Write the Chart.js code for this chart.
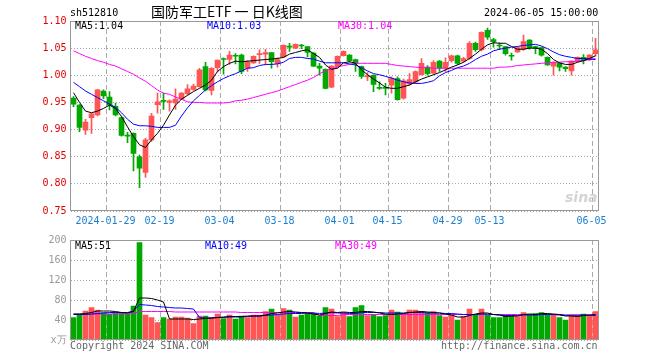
<!DOCTYPE html>
<html>
<head>
<meta charset="utf-8">
<script src="https://cdn.jsdelivr.net/npm/chart.js@4.4.1/dist/chart.umd.min.js"></script>
<style>
body { margin:0; background:#fff; width:660px; height:360px; position:relative; overflow:hidden; font-family:'DejaVu Sans Mono', monospace; }
canvas { position:absolute; left:0; }
#kline { top:0; }
#vol { top:226px; }
.txt { position:absolute; font-size:10px; line-height:12px; white-space:pre; }
</style>
</head>
<body>
<canvas id="kline" width="660" height="232"></canvas>
<canvas id="vol" width="660" height="134"></canvas>

<div class="txt" style="left:70px;top:7px;font-size:10px;color:#000">sh512810</div>
<div class="txt" style="left:151px;top:3px;font-size:14px;line-height:17px;font-family:'Noto Sans CJK SC',sans-serif;color:#000">国防军工ETF 一 日K线图</div>
<div class="txt" style="left:484px;top:7px;color:#000">2024-06-05 15:00:00</div>

<div class="txt" style="left:75px;top:20px;color:#000">MA5:1.04</div>
<div class="txt" style="left:207px;top:20px;color:#0000ff">MA10:1.03</div>
<div class="txt" style="left:338px;top:20px;color:#ff00ff">MA30:1.04</div>

<div class="txt" style="left:565px;top:189px;font:italic bold 14px 'DejaVu Sans',sans-serif;color:#d4d4d4">sina</div>

<div class="txt" style="left:75px;top:240px;color:#000">MA5:51</div>
<div class="txt" style="left:205px;top:240px;color:#0000ff">MA10:49</div>
<div class="txt" style="left:335px;top:240px;color:#ff00ff">MA30:49</div>

<div class="txt" style="left:70px;top:340px;color:#666">Copyright 2024 SINA.COM</div>
<div class="txt" style="left:441px;top:340px;color:#666">http://finance.sina.com.cn</div>

<script>
// trading days shown (2024-01-19 .. 2024-06-05)
const dates = [
  '2024-01-19','2024-01-22','2024-01-23','2024-01-24','2024-01-25','2024-01-26','2024-01-29','2024-01-30','2024-01-31',
  '2024-02-01','2024-02-02','2024-02-05','2024-02-06','2024-02-07','2024-02-08','2024-02-19','2024-02-20','2024-02-21',
  '2024-02-22','2024-02-23','2024-02-26','2024-02-27','2024-02-28','2024-02-29',
  '2024-03-01','2024-03-04','2024-03-05','2024-03-06','2024-03-07','2024-03-08','2024-03-11','2024-03-12','2024-03-13',
  '2024-03-14','2024-03-15','2024-03-18','2024-03-19','2024-03-20','2024-03-21','2024-03-22','2024-03-25','2024-03-26',
  '2024-03-27','2024-03-28','2024-03-29',
  '2024-04-01','2024-04-02','2024-04-03','2024-04-08','2024-04-09','2024-04-10','2024-04-11','2024-04-12','2024-04-15',
  '2024-04-16','2024-04-17','2024-04-18','2024-04-19','2024-04-22','2024-04-23','2024-04-24','2024-04-25','2024-04-26',
  '2024-04-29','2024-04-30',
  '2024-05-06','2024-05-07','2024-05-08','2024-05-09','2024-05-10','2024-05-13','2024-05-14','2024-05-15','2024-05-16',
  '2024-05-17','2024-05-20','2024-05-21','2024-05-22','2024-05-23','2024-05-24','2024-05-27','2024-05-28','2024-05-29',
  '2024-05-30','2024-05-31',
  '2024-06-03','2024-06-04','2024-06-05'
];

const openP = [0.958,0.945,0.899,0.922,0.927,0.971,0.960,0.943,0.922,0.889,
  0.893,0.850,0.821,0.881,0.946,0.953,0.950,0.949,0.956,0.966,
  0.974,0.979,1.016,0.972,1.014,1.030,1.029,1.036,1.037,1.013,
  1.023,1.038,1.039,1.042,1.022,1.034,1.053,1.050,1.055,1.053,
  1.041,1.017,1.011,0.978,1.016,1.036,1.037,1.029,1.016,0.997,
  1.000,0.977,0.977,0.982,0.994,0.958,0.984,0.988,1.001,1.015,
  1.004,1.026,1.013,1.027,1.036,1.026,1.031,1.059,1.047,1.083,
  1.066,1.055,1.053,1.036,1.043,1.048,1.065,1.053,1.051,1.033,
  1.017,1.022,1.015,1.008,1.026,1.033,1.029,1.040];
const closeP = [0.947,0.904,0.914,0.929,0.973,0.962,0.945,0.927,0.889,0.888,
  0.856,0.829,0.881,0.925,0.951,0.952,0.953,0.956,0.967,0.975,
  0.980,1.010,0.973,1.013,1.028,1.029,1.037,1.035,1.007,1.025,
  1.035,1.039,1.042,1.025,1.029,1.055,1.052,1.057,1.054,1.042,
  1.017,1.013,0.976,1.017,1.035,1.044,1.027,1.022,0.998,0.999,
  0.983,0.976,0.976,0.994,0.955,0.990,0.992,1.007,1.022,1.003,
  1.024,1.013,1.024,1.036,1.022,1.031,1.059,1.047,1.079,1.070,
  1.062,1.054,1.040,1.035,1.051,1.062,1.051,1.050,1.037,1.019,
  1.024,1.015,1.012,1.026,1.033,1.027,1.037,1.047];
const highP = [0.961,0.946,0.919,0.930,0.974,0.973,0.970,0.949,0.924,0.895,
  0.894,0.853,0.884,0.930,0.967,0.967,0.955,0.975,0.968,0.983,
  0.984,1.013,1.024,1.014,1.028,1.032,1.044,1.040,1.039,1.027,
  1.036,1.047,1.048,1.042,1.032,1.056,1.059,1.058,1.057,1.053,
  1.042,1.022,1.012,1.018,1.036,1.045,1.038,1.030,1.017,1.005,
  1.001,0.988,0.985,0.997,0.997,0.993,1.003,1.008,1.031,1.018,
  1.027,1.027,1.032,1.037,1.037,1.033,1.062,1.061,1.080,1.087,
  1.068,1.060,1.053,1.041,1.052,1.074,1.066,1.054,1.052,1.034,
  1.025,1.024,1.016,1.027,1.034,1.038,1.038,1.068];
const lowP = [0.942,0.896,0.891,0.893,0.925,0.957,0.936,0.925,0.888,0.876,
  0.824,0.793,0.812,0.878,0.930,0.937,0.934,0.937,0.955,0.964,
  0.972,0.978,0.971,0.964,1.006,1.002,1.020,1.021,1.003,1.007,
  1.022,1.022,1.019,1.013,1.015,1.033,1.044,1.049,1.049,1.034,
  1.016,1.000,0.975,0.977,1.015,1.035,1.024,1.007,0.994,0.990,
  0.970,0.974,0.964,0.967,0.954,0.956,0.982,0.985,1.000,1.000,
  1.002,1.007,1.007,1.024,1.020,1.024,1.029,1.044,1.045,1.066,
  1.052,1.047,1.037,1.028,1.042,1.046,1.048,1.040,1.035,1.018,
  1.000,1.008,1.007,1.000,1.024,1.021,1.027,1.035];

const ma5 = [0.968,0.950,0.934,0.931,0.934,0.939,0.945,0.939,0.924,0.905,
  0.887,0.872,0.867,0.881,0.893,0.908,0.927,0.945,0.956,0.963,
  0.970,0.976,0.982,0.991,1.007,1.016,1.022,1.026,1.025,1.026,
  1.027,1.028,1.029,1.030,1.031,1.033,1.039,1.042,1.045,1.047,
  1.040,1.033,1.019,1.011,1.013,1.023,1.025,1.022,1.010,1.001,
  0.993,0.986,0.978,0.976,0.976,0.979,0.982,0.988,0.993,0.997,
  1.001,1.005,1.010,1.015,1.019,1.024,1.031,1.039,1.048,1.056,
  1.060,1.059,1.059,1.053,1.048,1.048,1.050,1.050,1.048,1.040,
  1.029,1.023,1.020,1.020,1.024,1.027,1.031,1.036];
const ma10 = [0.987,0.979,0.971,0.965,0.959,0.953,0.947,0.941,0.931,0.919,
  0.910,0.907,0.907,0.906,0.904,0.904,0.904,0.908,0.925,0.940,
  0.953,0.963,0.973,0.981,0.988,0.994,0.999,1.003,1.008,1.013,
  1.014,1.018,1.020,1.020,1.021,1.024,1.031,1.033,1.033,1.031,
  1.030,1.026,1.023,1.023,1.023,1.023,1.021,1.019,1.014,1.008,
  1.003,1.001,0.998,0.995,0.991,0.988,0.986,0.985,0.985,0.987,
  0.990,0.999,1.005,1.009,1.014,1.017,1.022,1.029,1.035,1.039,
  1.045,1.048,1.050,1.052,1.053,1.055,1.056,1.057,1.054,1.049,
  1.043,1.038,1.035,1.033,1.031,1.031,1.030,1.029];
const ma30 = [1.045,1.040,1.035,1.031,1.027,1.024,1.020,1.017,1.012,1.007,
  1.002,0.995,0.989,0.981,0.973,0.967,0.965,0.960,0.956,0.951,
  0.950,0.950,0.949,0.949,0.949,0.949,0.950,0.953,0.954,0.956,
  0.959,0.962,0.965,0.968,0.971,0.975,0.979,0.983,0.987,0.991,
  0.996,1.003,1.008,1.012,1.015,1.018,1.020,1.022,1.022,1.022,
  1.022,1.022,1.022,1.020,1.018,1.017,1.016,1.015,1.014,1.014,
  1.013,1.013,1.013,1.013,1.013,1.013,1.013,1.013,1.013,1.013,
  1.013,1.015,1.015,1.016,1.018,1.019,1.020,1.021,1.022,1.023,
  1.024,1.024,1.025,1.025,1.026,1.027,1.029,1.031];

// volume, in 万
const volume = [45,51,58,65,60,55,52,55,55,53,
  68,195,50,45,35,45,42,46,46,44,
  33,48,48,45,52,43,50,42,48,45,
  50,50,57,62,50,63,60,46,50,53,
  53,48,65,62,47,55,47,65,69,49,
  51,47,49,60,56,52,60,60,57,55,
  57,49,46,50,40,47,62,50,62,50,
  45,45,50,50,47,55,51,53,55,51,
  50,45,40,50,50,52,49,57];
const volMa5 = [52,52,53,55,58,58,58,57,55,54,
  57,84,84,83,80,76,42,42,42,42,
  41,42,43,44,45,46,47,47,47,48,
  48,48,50,53,54,56,57,56,55,54,
  52,50,53,56,55,56,55,55,57,57,
  56,54,52,51,52,53,55,56,57,56,
  55,54,52,50,46,46,49,52,54,54,
  51,50,47,48,48,51,52,51,53,53,
  52,51,48,48,47,49,50,51];
const volMa10 = [51,51,51,52,53,54,55,55,55,55,
  58,71,70,69,67,66,65,64,64,63,
  62,45,44,44,45,45,46,46,46,47,
  48,48,49,50,51,52,53,53,53,54,
  54,53,54,55,54,54,53,53,55,55,
  55,55,54,54,54,54,55,55,55,54,
  54,54,53,53,52,51,51,51,52,52,
  51,50,49,49,49,50,50,50,51,51,
  51,51,50,50,50,50,50,49];
const volMa30 = [52,52,52,52,52,52,52,52,52,52,
  53,57,57,57,57,57,57,56,56,56,
  56,56,56,56,56,56,56,56,55,55,
  55,55,55,55,55,55,55,55,55,55,
  55,49,49,49,49,51,51,51,51,51,
  51,51,51,51,51,51,51,51,51,51,
  51,51,51,51,51,51,51,51,51,51,
  51,51,51,51,51,51,51,51,51,51,
  51,49,49,49,49,49,49,49];

const markDates = ['2024-01-29','2024-02-19','2024-03-04','2024-03-18','2024-04-01','2024-04-15','2024-04-29','2024-05-13','2024-06-05'];
const markLabels = ['2024-01-29','02-19','03-04','03-18','04-01','04-15','04-29','05-13','06-05'];

const RED = '#ff5555';
const GREEN = '#00a800';
const candleColors = closeP.map((c, i) => c >= openP[i] ? RED : GREEN);
const markIdx = markDates.map(d => dates.indexOf(d));

const monoFont = { family: 'DejaVu Sans Mono', size: 10 };

// gray frame round the plot area
const framePlugin = {
  id: 'frame',
  afterDraw(chart) {
    const { ctx, chartArea: a } = chart;
    ctx.save();
    ctx.strokeStyle = '#999';
    ctx.lineWidth = 1;
    const l = Math.floor(a.left) + 0.5, t = Math.floor(a.top) + 0.5;
    const r = Math.floor(a.right) + 0.5, b = Math.floor(a.bottom) - 0.5;
    ctx.strokeRect(l, t, r - l, b - t);
    ctx.restore();
  }
};

function xAxis(showLabels) {
  return {
    offset: true,
    afterFit(scale) { scale.height = showLabels ? 21 : 20; },
    grid: {
      offset: true,
      drawTicks: false,
      color: ctx => markIdx.includes(ctx.index) ? '#aaa' : 'rgba(0,0,0,0)',
      lineWidth: 1
    },
    border: { display: false, dash: [5, 3] },
    ticks: {
      display: showLabels,
      autoSkip: false,
      maxRotation: 0,
      minRotation: 0,
      padding: 4,
      labelOffset: -4,
      color: '#1a7fd0',
      font: monoFont,
      callback: (v, i) => {
        const k = markIdx.indexOf(i);
        return k >= 0 ? markLabels[k] : '';
      }
    }
  };
}

const lineDs = (data, color) => ({
  type: 'line', data, borderColor: color, borderWidth: 1, pointRadius: 0, tension: 0, order: 0
});

new Chart(document.getElementById('kline'), {
  type: 'bar',
  data: {
    labels: dates,
    datasets: [
      lineDs(ma5, '#000000'),
      lineDs(ma10, '#0000ff'),
      lineDs(ma30, '#ff00ff'),
      {
        data: openP.map((o, i) => [o, closeP[i]]),
        backgroundColor: candleColors,
        barThickness: 5, minBarLength: 1, grouped: false, order: 1
      },
      {
        data: lowP.map((l, i) => [l, highP[i]]),
        backgroundColor: candleColors,
        barThickness: 1, grouped: false, order: 2
      }
    ]
  },
  options: {
    responsive: false,
    animation: false,
    events: [],
    layout: { padding: { left: 0, right: 61.5, top: 21, bottom: 0 } },
    plugins: { legend: { display: false }, tooltip: { enabled: false } },
    scales: {
      x: xAxis(true),
      y: {
        min: 0.75, max: 1.10,
        afterFit(scale) { scale.width = 70.5; },
        grid: { drawTicks: false, color: '#aaa' },
        border: { display: false, dash: [1, 2] },
        ticks: {
          stepSize: 0.05, padding: 4, color: '#e00000', font: monoFont,
          callback: v => v.toFixed(2)
        }
      }
    }
  },
  plugins: [framePlugin]
});

new Chart(document.getElementById('vol'), {
  type: 'bar',
  data: {
    labels: dates,
    datasets: [
      lineDs(volMa5, '#000000'),
      lineDs(volMa10, '#0000ff'),
      lineDs(volMa30, '#ff00ff'),
      {
        data: volume,
        backgroundColor: candleColors,
        barThickness: 5, grouped: false, order: 1
      }
    ]
  },
  options: {
    responsive: false,
    animation: false,
    events: [],
    layout: { padding: { left: 0, right: 61.5, top: 14, bottom: 0 } },
    plugins: { legend: { display: false }, tooltip: { enabled: false } },
    scales: {
      x: xAxis(false),
      y: {
        min: 0, max: 200,
        afterFit(scale) { scale.width = 70.5; },
        grid: { drawTicks: false, color: '#aaa' },
        border: { display: false, dash: [1, 2] },
        ticks: {
          stepSize: 40, padding: 4, color: '#999', font: monoFont,
          callback: v => v === 0 ? 'x万' : String(v)
        }
      }
    }
  },
  plugins: [framePlugin]
});
</script>
</body>
</html>
